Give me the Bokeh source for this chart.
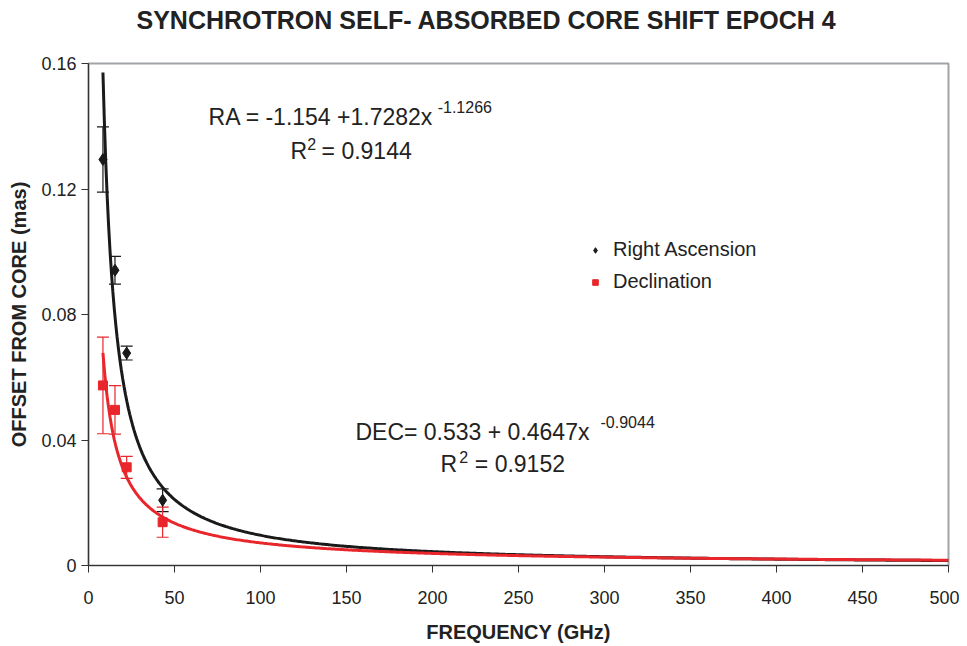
import numpy as np
from bokeh.plotting import figure
from bokeh.models import (ColumnDataSource, Whisker, TeeHead, Label, Legend, LegendItem,
                          FixedTicker, Range1d, Title)
from bokeh.embed import file_html
from bokeh.resources import INLINE

# ---- data ----
freq = [8.4, 15.4, 22.2, 43.1]
ra = [0.1294, 0.0941, 0.0677, 0.0208]
ra_err = [0.0104, 0.0044, 0.0022, 0.0036]
dec = [0.0574, 0.0496, 0.0313, 0.0138]
dec_err = [0.0154, 0.0077, 0.0035, 0.0048]

# trend-line coefficients as printed on the chart (power law a*x^b)
ra_a, ra_b = 1.7282, -1.1266
dec_a, dec_b = 0.4647, -0.9044
fit_x_min, fit_x_max = 8.4, 500

x_ticks = [0, 50, 100, 150, 200, 250, 300, 350, 400, 450, 500]
y_ticks = [0, 0.04, 0.08, 0.12, 0.16]
y_tick_labels = ["0", "0.04", "0.08", "0.12", "0.16"]

FONT = "Liberation Sans"
TXT = "#222222"
RED = "#e8262b"

p = figure(width=959, height=646, output_backend="svg", toolbar_location=None,
           title_location=None,
           x_range=Range1d(0, 500), y_range=Range1d(0, 0.16),
           min_border_left=88, min_border_right=11, min_border_top=63, min_border_bottom=81)

# spacer (closest to the frame) then the main title above it
p.add_layout(Title(text=" ", text_font_size="10px", standoff=14), "above")
p.add_layout(Title(text="SYNCHROTRON SELF- ABSORBED CORE SHIFT EPOCH 4",
                   text_font=FONT, text_font_size="25px", text_font_style="bold",
                   text_color=TXT, align="left", offset=48, standoff=6), "above")

p.grid.visible = False
p.outline_line_color = "#a0a4a8"
p.outline_line_width = 2
p.background_fill_color = "white"
p.border_fill_color = "white"

for ax in (p.xaxis[0], p.yaxis[0]):
    ax.axis_line_color = "#333333"
    ax.axis_line_width = 1.2
    ax.major_tick_line_color = "#333333"
    ax.major_tick_out = 7
    ax.major_tick_in = 0
    ax.minor_tick_line_color = None
    ax.major_label_text_font = FONT
    ax.major_label_text_font_size = "18px"
    ax.major_label_text_color = TXT
    ax.axis_label_text_font = FONT
    ax.axis_label_text_font_size = "20px"
    ax.axis_label_text_font_style = "bold"
    ax.axis_label_text_color = TXT

p.xaxis.ticker = FixedTicker(ticks=x_ticks)
p.yaxis.ticker = FixedTicker(ticks=y_ticks)
p.yaxis.major_label_overrides = {t: s for t, s in zip(y_ticks, y_tick_labels)}
p.xaxis.axis_label = "FREQUENCY (GHz)"
p.yaxis.axis_label = "OFFSET FROM CORE (mas)"
p.xaxis.major_label_standoff = 18
p.yaxis.major_label_standoff = 5
p.xaxis.axis_label_standoff = 14
p.yaxis.axis_label_standoff = 8

# ---- trend lines ----
fx = np.linspace(fit_x_min, fit_x_max, 600)
p.line(fx, ra_a * fx ** ra_b, line_color="#1a1a1a", line_width=3)
p.line(fx, dec_a * fx ** dec_b, line_color=RED, line_width=3)

# ---- error bars ----
src = ColumnDataSource(dict(
    f=freq, ra=ra, dec=dec,
    ra_lo=[v - e for v, e in zip(ra, ra_err)], ra_hi=[v + e for v, e in zip(ra, ra_err)],
    dec_lo=[v - e for v, e in zip(dec, dec_err)], dec_hi=[v + e for v, e in zip(dec, dec_err)],
))
w_ra = Whisker(source=src, base="f", lower="ra_lo", upper="ra_hi", line_color="#1a1a1a", line_width=1.2,
               upper_head=TeeHead(size=12, line_color="#1a1a1a", line_width=1.2),
               lower_head=TeeHead(size=12, line_color="#1a1a1a", line_width=1.2))
w_dec = Whisker(source=src, base="f", lower="dec_lo", upper="dec_hi", line_color=RED, line_width=1.2,
                upper_head=TeeHead(size=12, line_color=RED, line_width=1.2),
                lower_head=TeeHead(size=12, line_color=RED, line_width=1.2))
p.add_layout(w_ra)
p.add_layout(w_dec)

r_ra = p.scatter("f", "ra", source=src, marker="diamond", size=12, color="#1a1a1a")
r_dec = p.scatter("f", "dec", source=src, marker="square", size=9, color=RED)

legend = Legend(items=[LegendItem(label="Right Ascension", renderers=[r_ra]),
                       LegendItem(label="Declination", renderers=[r_dec])],
                location=(500, 272), orientation="vertical")
legend.border_line_color = None
legend.background_fill_alpha = 0
legend.padding = 0
legend.margin = 0
legend.spacing = 9
legend.glyph_width = 14
legend.glyph_height = 20
legend.label_height = 20
legend.label_standoff = 11
legend.label_text_font = FONT
legend.label_text_font_size = "20px"
legend.label_text_color = TXT
p.add_layout(legend)

# ---- equation annotations ----
def lab(x, y, text, size, align="left"):
    p.add_layout(Label(x=x, y=y, text=text, text_font=FONT, text_font_size=size,
                       text_color=TXT, text_align=align, text_baseline="alphabetic"))

lab(69.8, 0.1431, "RA = -1.154 +1.7282x", "23px")
lab(203.0, 0.1462, "-1.1266", "16px")
lab(117.4, 0.1320, "R", "23px")
lab(127.2, 0.1342, "2", "16px")
lab(135.5, 0.1320, "= 0.9144", "23px")

lab(155.2, 0.0427, "DEC= 0.533 + 0.4647x", "23px")
lab(297.7, 0.0456, "-0.9044", "16px")
lab(204.7, 0.0322, "R", "23px")
lab(215.6, 0.0347, "2", "16px")
lab(224.6, 0.0322, "= 0.9152", "23px")

open("out.html", "w").write(file_html(p, INLINE))
